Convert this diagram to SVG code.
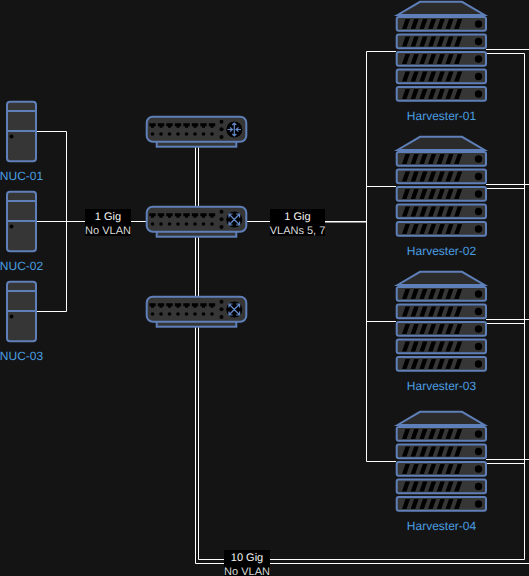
<svg xmlns="http://www.w3.org/2000/svg" xmlns:xlink="http://www.w3.org/1999/xlink" width="529" height="576" viewBox="0 0 529 576">
<style>
.w{fill:none;stroke:#fff;stroke-width:1}
.b{fill:#363636;stroke:#5f7fb8;stroke-width:2}
.k{fill:#000}
text{text-rendering:geometricPrecision}
.n{font:12px "Liberation Sans",Arial,sans-serif;fill:#4a9ee0;text-anchor:middle}
.l{font:11px "Liberation Sans",Arial,sans-serif;fill:#f4f4f4;text-anchor:middle}
.m{fill:#ddd}
.a{fill:none;stroke:#6488c8;stroke-width:1.200}
</style>
<defs>
<g id="unit">
<rect class="b" x="0.700" y="1" width="89.300" height="13.700" rx="2"/>
<path class="k" d="M9.500 3h4.500l-3.500 10h-4.500zM18.200 3h4.500l-3.500 10h-4.500zM26.900 3h4.500l-3.500 10h-4.500zM35.600 3h4.500l-3.500 10h-4.500zM44.300 3h4.500l-3.500 10h-4.500zM53 3h4.500l-3.500 10h-4.500zM61.700 3h4.500l-3.500 10h-4.500z"/>
<circle class="k" cx="82.500" cy="8" r="3.700"/>
</g>
<g id="server">
<path class="b" d="M397.500 15L420 1.800H462L484.500 15Z" style="fill:#2b2b2b"/>
<use xlink:href="#unit" x="396" y="16"/>
<use xlink:href="#unit" x="396" y="33.500"/>
<use xlink:href="#unit" x="396" y="51"/>
<use xlink:href="#unit" x="396" y="68.500"/>
<use xlink:href="#unit" x="396" y="86"/>
</g>
<g id="tower">
<rect class="b" x="7" y="101.700" width="29" height="59.600" rx="3"/>
<path d="M7 111H36M7 131H36" fill="none" stroke="#5f7fb8" stroke-width="2"/>
<circle class="k" cx="11.500" cy="136.500" r="2"/>
</g>
<path id="port" class="k" d="M-3.200 -2.500H3.200V0.500H1.500V2H-1.500V0.500H-3.200Z"/>
<g id="sw">
<rect class="b" x="156.700" y="141" width="79.600" height="5.700"/>
<rect class="b" x="146.700" y="116.700" width="99.600" height="25" rx="6"/>
<use xlink:href="#port" x="152.500" y="125.800"/><use xlink:href="#port" x="161" y="125.800"/><use xlink:href="#port" x="169.500" y="125.800"/><use xlink:href="#port" x="178" y="125.800"/><use xlink:href="#port" x="186.500" y="125.800"/><use xlink:href="#port" x="195" y="125.800"/><use xlink:href="#port" x="203.500" y="125.800"/><use xlink:href="#port" x="212" y="125.800"/>
<g class="k"><circle cx="152.500" cy="134" r="1.800"/><circle cx="161" cy="134" r="1.800"/><circle cx="169.500" cy="134" r="1.800"/><circle cx="178" cy="134" r="1.800"/><circle cx="186.500" cy="134" r="1.800"/><circle cx="195" cy="134" r="1.800"/><circle cx="203.500" cy="134" r="1.800"/><circle cx="212" cy="134" r="1.800"/>
<circle cx="221.500" cy="121.700" r="2"/><circle cx="221.500" cy="129.300" r="2"/><circle cx="221.500" cy="137" r="2"/>
<circle cx="234.300" cy="129.500" r="8"/></g>
</g>
<path id="routerIcon" class="a" d="M234.300 123V136M232.300 125L234.300 123L236.300 125M232.300 134L234.300 136L236.300 134M227.500 129.500H232.500M230 127.500L232.500 129.500L230 131.500M241 129.500H236M238.500 127.500L236 129.500L238.500 131.500"/>
<path id="xIcon" class="a" d="M229 124L239.600 135M239.600 124L229 135M229 127.500V124H232.500M236.100 124H239.600V127.500M229 131.500V135H232.500M236.100 135H239.600V131.500"/>
</defs>
<rect width="529" height="576" fill="#141414"/>
<g id="connectors">
<path class="w" d="M36 131.500H66.500V311.500H36"/>
<path class="w" d="M36 221.500H147"/>
<path class="w" d="M246 221.500H366.500"/>
<path class="w" d="M325 222H366.500"/>
<path class="w" d="M366.500 51.500V461.500M366.500 51.500H396M366.500 186.500H396M366.500 321.500H396M366.500 461.500H396"/>
<path class="w" d="M195.500 146V563.500H529"/>
<path class="w" d="M198.500 146V559.500H524.500V53.500H486"/>
<path class="w" d="M486 49.500H529M486 184.500H529M486 319.500H529M486 459.500H529"/>
<path class="w" d="M486 188.500H524.500M486 323.500H524.500M486 463.500H524.500"/>
</g>
<g id="nuc-01"><use xlink:href="#tower"/><text class="n" x="21.500" y="180">NUC-01</text></g>
<g id="nuc-02"><use xlink:href="#tower" y="90"/><text class="n" x="21.500" y="270">NUC-02</text></g>
<g id="nuc-03"><use xlink:href="#tower" y="180"/><text class="n" x="21.500" y="360">NUC-03</text></g>
<g id="router"><use xlink:href="#sw"/><use xlink:href="#routerIcon"/></g>
<g id="switch-1"><use xlink:href="#sw" y="90"/><use xlink:href="#xIcon" y="90"/></g>
<g id="switch-2"><use xlink:href="#sw" y="180"/><use xlink:href="#xIcon" y="180"/></g>
<g id="harvester-01"><use xlink:href="#server"/><text class="n" x="441.500" y="120">Harvester-01</text></g>
<g id="harvester-02"><use xlink:href="#server" y="135"/><text class="n" x="441.500" y="255">Harvester-02</text></g>
<g id="harvester-03"><use xlink:href="#server" y="270"/><text class="n" x="441.500" y="390">Harvester-03</text></g>
<g id="harvester-04"><use xlink:href="#server" y="410"/><text class="n" x="441.500" y="530">Harvester-04</text></g>
<g id="label-1"><rect class="k" x="85" y="209" width="46" height="27"/><text class="l" x="108" y="220">1 Gig</text><text class="l m" x="108" y="234">No VLAN</text></g>
<g id="label-2"><rect class="k" x="270" y="209" width="55" height="27"/><text class="l" x="297.500" y="220">1 Gig</text><text class="l m" x="297.500" y="234">VLANs 5, 7</text></g>
<g id="label-3"><rect class="k" x="224" y="550" width="46" height="26"/><text class="l" x="247" y="561">10 Gig</text><text class="l m" x="247" y="575">No VLAN</text></g>
</svg>
